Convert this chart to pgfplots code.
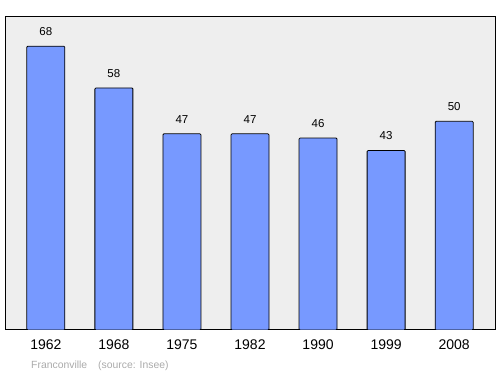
\documentclass[border=0pt]{standalone}
\usepackage{pgfplots}
\pgfplotsset{compat=1.18}
\usepackage{fontspec}
\setmainfont{Liberation Sans}
\definecolor{barblue}{RGB}{119,153,255}
\definecolor{bggray}{RGB}{238,238,238}
\definecolor{footgray}{RGB}{170,170,170}
\begin{document}
\begin{tikzpicture}[x=1bp,y=1bp]
\begin{axis}[
  name=ax,
  at={(0,0)}, anchor=south west,
  scale only axis,
  width=490bp, height=313bp,
  xmin=-0.6, xmax=6.6, ymin=0, ymax=75,
  axis background/.style={fill=bggray},
  axis line style={black, line width=1bp},
  xtick=data,
  xticklabels={1962,1968,1975,1982,1990,1999,2008},
  ytick=\empty,
  major tick length=0pt,
  xticklabel style={font=\fontsize{14bp}{16bp}\selectfont, yshift=-6bp},
  ybar, bar width=38bp,
  nodes near coords,
  nodes near coords style={font=\fontsize{11.5bp}{13bp}\selectfont, yshift=7bp},
  /pgf/number format/assume math mode=true,
]
\addplot[fill=barblue, draw=black, line width=0.8bp, rounded corners=1bp] coordinates {
(0,68) (1,58) (2,47) (3,47) (4,46) (5,43) (6,50)};
\end{axis}
\node[anchor=base west, font=\fontsize{10.4bp}{12bp}\selectfont, text=footgray, inner sep=0pt] at ([xshift=26bp,yshift=-39bp]ax.south west) {Franconville\hspace{11bp}(source: Insee)};
\pgfresetboundingbox
\path ([xshift=-5bp,yshift=-44bp]ax.south west) rectangle ([xshift=5bp,yshift=17bp]ax.north east);
\end{tikzpicture}
\end{document}
